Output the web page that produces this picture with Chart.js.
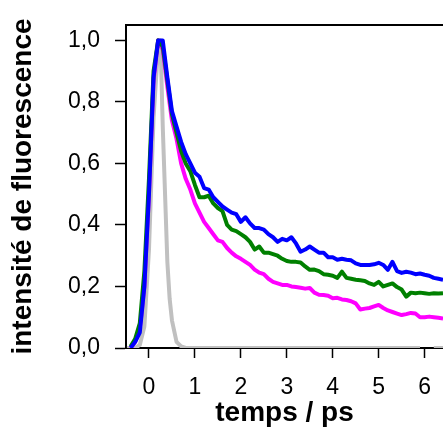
<!DOCTYPE html>
<html>
<head>
<meta charset="utf-8">
<script src="https://cdn.jsdelivr.net/npm/chart.js@4/dist/chart.umd.min.js"></script>
<style>
  html, body { margin: 0; padding: 0; background: #fff; }
</style>
</head>
<body>
<canvas id="canvas" width="443" height="430"></canvas>
<script>
// temps / ps (common time base of the three decays)
var time = [-0.4, -0.3, -0.2, -0.1, 0.0, 0.1, 0.2, 0.3, 0.4, 0.5,
            0.6, 0.7, 0.8, 0.9, 1.0, 1.1, 1.2, 1.3, 1.4, 1.5,
            1.6, 1.7, 1.8, 1.9, 2.0, 2.1, 2.2, 2.3, 2.4, 2.5,
            2.6, 2.7, 2.8, 2.9, 3.0, 3.1, 3.2, 3.3, 3.4, 3.5,
            3.6, 3.7, 3.8, 3.9, 4.0, 4.1, 4.2, 4.3, 4.4, 4.5,
            4.6, 4.7, 4.8, 4.9, 5.0, 5.1, 5.2, 5.3, 5.4, 5.5,
            5.6, 5.7, 5.8, 5.9, 6.0, 6.1, 6.2, 6.3, 6.4];

var blue = [0, 0.02, 0.05, 0.2, 0.5, 0.88, 1.0, 1.0, 0.88, 0.77,
            0.72, 0.67, 0.63, 0.6, 0.57, 0.557, 0.52, 0.515, 0.49, 0.475,
            0.46, 0.45, 0.44, 0.435, 0.41, 0.425, 0.405, 0.39, 0.39, 0.385,
            0.37, 0.36, 0.345, 0.355, 0.35, 0.36, 0.34, 0.313, 0.32, 0.33,
            0.32, 0.31, 0.31, 0.295, 0.295, 0.287, 0.29, 0.287, 0.285, 0.275,
            0.27, 0.27, 0.27, 0.272, 0.277, 0.27, 0.254, 0.28, 0.25, 0.244,
            0.248, 0.245, 0.24, 0.242, 0.238, 0.235, 0.228, 0.225, 0.222];

var green = [0.005, 0.03, 0.08, 0.25, 0.55, 0.9, 1.0, 0.98, 0.87, 0.76,
             0.7, 0.64, 0.6, 0.575, 0.53, 0.49, 0.49, 0.495, 0.47, 0.455,
             0.445, 0.4, 0.385, 0.38, 0.37, 0.36, 0.345, 0.32, 0.33, 0.31,
             0.31, 0.305, 0.3, 0.29, 0.283, 0.28, 0.28, 0.278, 0.265, 0.254,
             0.255, 0.25, 0.24, 0.238, 0.235, 0.228, 0.248, 0.228, 0.225, 0.222,
             0.22, 0.218, 0.21, 0.205, 0.215, 0.2, 0.205, 0.21, 0.198, 0.19,
             0.167, 0.18, 0.178, 0.18, 0.178, 0.176, 0.178, 0.177, 0.178];

var magenta = [0, 0.02, 0.06, 0.2, 0.5, 0.87, 1.0, 0.97, 0.85, 0.74,
               0.68, 0.6, 0.55, 0.515, 0.47, 0.44, 0.41, 0.39, 0.37, 0.35,
               0.345, 0.325, 0.31, 0.298, 0.29, 0.28, 0.27, 0.255, 0.245, 0.24,
               0.225, 0.215, 0.21, 0.205, 0.205, 0.2, 0.198, 0.196, 0.193, 0.195,
               0.18, 0.173, 0.172, 0.17, 0.162, 0.163, 0.158, 0.156, 0.152, 0.145,
               0.125, 0.128, 0.13, 0.135, 0.14, 0.13, 0.122, 0.117, 0.112, 0.107,
               0.11, 0.114, 0.112, 0.1, 0.1, 0.102, 0.1, 0.098, 0.096];

// instrument response (grey)
var irfTime = [-0.48, -0.3, -0.2, -0.1, 0.0, 0.1, 0.2, 0.25, 0.3, 0.35,
               0.4, 0.45, 0.5, 0.6, 0.7, 0.8, 5.9, 6.0, 6.2, 6.4];
var irf = [0, 0, 0.01, 0.07, 0.32, 0.75, 0.98, 1.0, 0.72, 0.5,
           0.28, 0.16, 0.09, 0.02, 0.005, 0, 0, null, 0, 0];

var xTicks = [0, 1, 2, 3, 4, 5, 6];
var yTicks = [0, 0.2, 0.4, 0.6, 0.8, 1.0];

function pts(xs, ys) {
    return xs.map(function (x, i) { return { x: x, y: ys[i] }; });
}

Chart.defaults.font.family = '"Liberation Sans", Arial, sans-serif';
Chart.defaults.color = '#000';

var topLine = {
    id: 'topLine',
    afterDraw: function (chart) {
        var a = chart.chartArea, ctx = chart.ctx;
        ctx.save();
        ctx.strokeStyle = '#000';
        ctx.lineWidth = 2;
        ctx.beginPath();
        ctx.moveTo(a.left - 1, a.top);
        ctx.lineTo(a.right, a.top);
        ctx.stroke();
        ctx.restore();
    }
};

new Chart('canvas', {
    type: 'scatter',
    data: {
        datasets: [
            { data: pts(time, blue), borderColor: '#0000ff' },
            { data: pts(time, green), borderColor: '#008000' },
            { data: pts(time, magenta), borderColor: '#ff00ff' },
            { data: pts(irfTime, irf), borderColor: '#c0c0c0' }
        ]
    },
    options: {
        responsive: false,
        animation: false,
        showLine: true,
        spanGaps: false,
        layout: { padding: { top: 25, left: 0, right: 0, bottom: 0 } },
        plugins: { legend: { display: false }, tooltip: { enabled: false } },
        elements: {
            point: { radius: 0 },
            line: { tension: 0, borderWidth: 4, borderJoinStyle: 'round' }
        },
        scales: {
            x: {
                type: 'linear',
                min: -0.5,
                max: 6.4,
                afterBuildTicks: function (s) { s.ticks = xTicks.map(function (v) { return { value: v }; }); },
                afterFit: function (s) { s.height = 82; s.paddingLeft = 0; s.paddingRight = 0; },
                grid: { drawOnChartArea: false, tickLength: 10, tickColor: '#000', tickWidth: 1.5 },
                border: { color: '#000', width: 2 },
                ticks: { font: { size: 23 }, padding: 16, autoSkip: false, maxRotation: 0,
                         callback: function (v) { return String(v); } },
                title: { display: true, text: 'temps / ps', font: { size: 28, weight: 'bold' },
                         padding: { top: 2, bottom: 0 } }
            },
            y: {
                type: 'linear',
                min: 0,
                max: 1.05,
                afterBuildTicks: function (s) { s.ticks = yTicks.map(function (v) { return { value: v }; }); },
                afterFit: function (s) { s.width = 126; s.paddingTop = 0; s.paddingBottom = 0; },
                grid: { drawOnChartArea: false, tickLength: 11, tickColor: '#000', tickWidth: 1.5 },
                border: { color: '#000', width: 2 },
                ticks: { font: { size: 23 }, padding: 15, autoSkip: false,
                         callback: function (v) { return v.toFixed(1).replace('.', ','); } },
                title: { display: true, text: 'intensité de fluorescence', font: { size: 28, weight: 'bold' },
                         padding: { top: 6, bottom: 0 } }
            }
        }
    },
    plugins: [topLine]
});
</script>
</body>
</html>
